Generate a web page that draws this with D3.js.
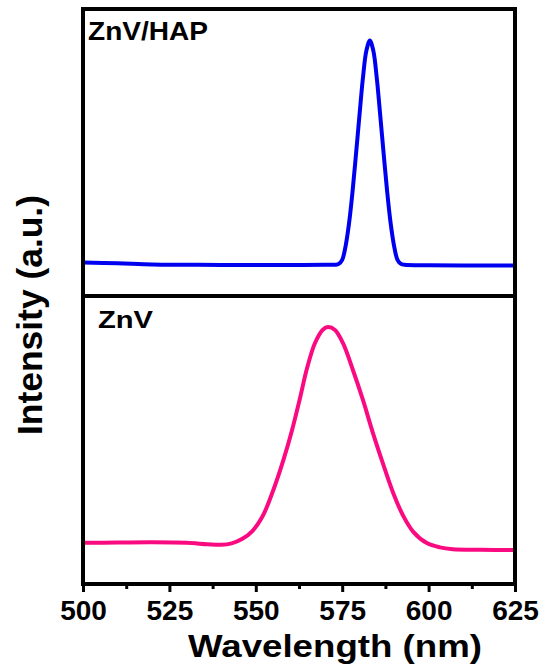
<!DOCTYPE html>
<html><head><meta charset="utf-8">
<script src="https://cdn.jsdelivr.net/npm/d3@7"></script>
<style>
html,body{margin:0;padding:0;background:#fff;}
svg{display:block;font-family:"Liberation Sans",Arial,Helvetica,sans-serif;}
</style></head>
<body>
<svg id="chart" width="544" height="670"></svg>
<script>
// ---- data ----
const xTicks = [500, 525, 550, 575, 600, 625];
const xMinorTicks = [512.5, 537.5, 562.5, 587.5, 612.5];

const hapWavelength = [500, 510, 520, 530, 540, 550, 560, 570, 573, 574, 575, 576, 577, 578, 579, 580, 581, 582, 583, 584, 585, 586, 587, 588, 589, 590, 591, 592, 593, 600, 610, 625];
const hapIntensity  = [11.7, 11.4, 11.0, 10.9, 10.8, 10.8, 10.8, 10.9, 10.9, 11.2, 12.6, 17.5, 25.5, 36.5, 49.5, 63, 76, 85.5, 89, 85.5, 76, 63, 49.5, 36.5, 25.5, 17.5, 12.6, 11.2, 10.9, 10.7, 10.6, 10.6];

const znvWavelength = [500, 510, 520, 530, 536, 540, 543, 546, 549, 552, 555, 558, 560.5, 562.8, 564.8, 567.1, 569.4, 570.9, 572.9, 575.2, 578.1, 581, 583.9, 586.8, 589.7, 592.6, 595.5, 599.5, 603.3, 607, 615, 625];
const znvIntensity  = [14.3, 14.4, 14.5, 14.3, 13.8, 13.6, 14.1, 15.6, 18.4, 23.6, 32.4, 43.1, 53.5, 64.6, 74.8, 83.6, 88.3, 89.2, 88.2, 83.7, 74.3, 63.9, 52.4, 41.8, 31.8, 23.8, 18.2, 14.2, 12.7, 12.1, 11.9, 11.8];

const panelLabels = ["ZnV/HAP", "ZnV"];
const xTitle = "Wavelength (nm)";
const yTitle = "Intensity (a.u.)";

// ---- layout ----
const L = 83, R = 515, T = 9, M = 296, B = 584;
const svg = d3.select("#chart");

const x = d3.scaleLinear().domain([500, 625]).range([L, R]);
const yTop = d3.scaleLinear().domain([0, 100]).range([M, T]);
const yBot = d3.scaleLinear().domain([0, 100]).range([B, M]);

const hap = hapWavelength.map((w, i) => [w, hapIntensity[i]]);
const znv = znvWavelength.map((w, i) => [w, znvIntensity[i]]);

const lineTop = d3.line().x(d => x(d[0])).y(d => yTop(d[1])).curve(d3.curveCatmullRom.alpha(0.5));
const lineBot = d3.line().x(d => x(d[0])).y(d => yBot(d[1])).curve(d3.curveCatmullRom.alpha(0.5));

svg.append("path").datum(hap).attr("d", lineTop)
  .attr("fill", "none").attr("stroke", "#0000f0").attr("stroke-width", 4)
  .attr("stroke-linejoin", "round").attr("stroke-linecap", "round");
svg.append("path").datum(znv).attr("d", lineBot)
  .attr("fill", "none").attr("stroke", "#fa0a80").attr("stroke-width", 4)
  .attr("stroke-linejoin", "round").attr("stroke-linecap", "round");

// frame
svg.append("rect").attr("x", L).attr("y", T).attr("width", R - L).attr("height", B - T)
  .attr("fill", "none").attr("stroke", "#000").attr("stroke-width", 4);
svg.append("line").attr("x1", L).attr("x2", R).attr("y1", M).attr("y2", M)
  .attr("stroke", "#000").attr("stroke-width", 4);

// x axis ticks
const gMinor = svg.append("g").attr("transform", `translate(0,${B + 2})`)
  .call(d3.axisBottom(x).tickValues(xMinorTicks).tickSize(3).tickFormat(""));
gMinor.select(".domain").remove();
gMinor.selectAll("line").attr("stroke-width", 3);

const gMajor = svg.append("g").attr("transform", `translate(0,${B + 2})`)
  .call(d3.axisBottom(x).tickValues(xTicks).tickSize(6).tickPadding(6).tickFormat(d3.format("d")));
gMajor.select(".domain").remove();
gMajor.selectAll("line").attr("stroke-width", 3);
gMajor.selectAll("text").attr("font-size", 28).attr("font-weight", "bold")
  .attr("fill", "#000").attr("dy", null).attr("y", 34)
  .attr("font-family", "'Liberation Sans',Arial,sans-serif");

// titles
svg.append("text").attr("x", 335).attr("y", 657).attr("text-anchor", "middle")
  .attr("font-size", 31).attr("font-weight", "bold")
  .attr("textLength", 294).attr("lengthAdjust", "spacingAndGlyphs").text(xTitle);

svg.append("text").attr("transform", "translate(42,315) rotate(-90)")
  .attr("text-anchor", "middle").attr("font-size", 35).attr("font-weight", "bold")
  .attr("textLength", 240).attr("lengthAdjust", "spacingAndGlyphs").text(yTitle);

// panel labels
svg.append("text").attr("x", 88).attr("y", 40).attr("font-size", 25).attr("font-weight", "bold")
  .attr("textLength", 120).attr("lengthAdjust", "spacingAndGlyphs").text(panelLabels[0]);
svg.append("text").attr("x", 98).attr("y", 328).attr("font-size", 23).attr("font-weight", "bold")
  .attr("textLength", 55).attr("lengthAdjust", "spacingAndGlyphs").text(panelLabels[1]);
</script>
</body></html>
